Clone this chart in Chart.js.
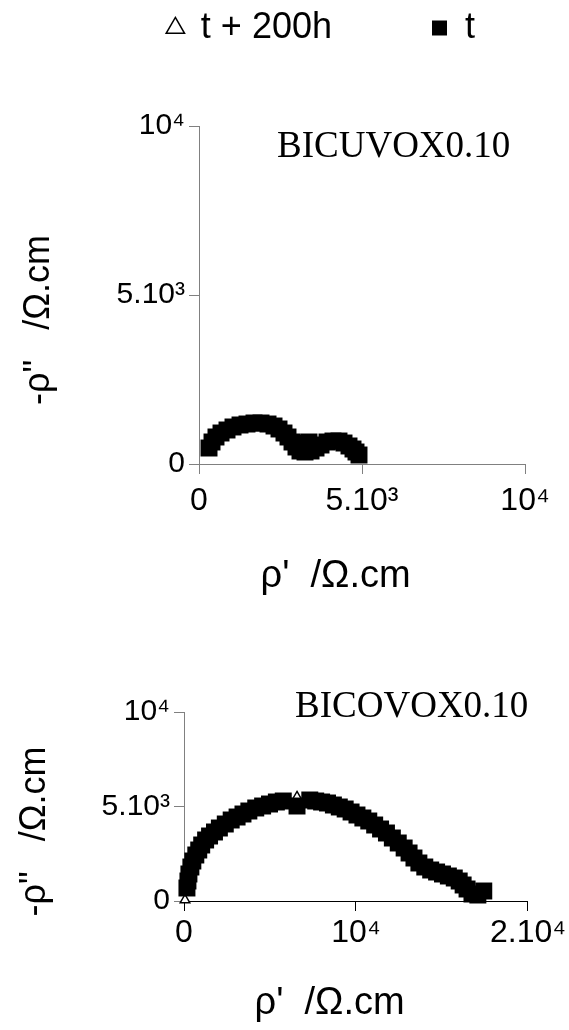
<!DOCTYPE html>
<html>
<head>
<meta charset="utf-8">
<script src="https://cdn.jsdelivr.net/npm/chart.js@4.4.1/dist/chart.umd.min.js"></script>
<style>
  html, body { margin: 0; padding: 0; background: #fff; }
  body { width: 569px; height: 1030px; position: relative; overflow: hidden; }
  canvas { position: absolute; left: 0; }
  #top { top: 0; }
  #bottom { top: 603px; }
</style>
</head>
<body>
<canvas id="top" width="569" height="603"></canvas>
<canvas id="bottom" width="569" height="427"></canvas>
<script>
/* impedance plots - two Nyquist diagrams, rho' vs -rho'' */

const SANS = '"Liberation Sans", Arial, sans-serif';
const SERIF = '"Liberation Serif", "Times New Roman", serif';

const legendNames = ['t', 't + 200h'];

// BICUVOX0.10
const cuTicksX = [0, 5000, 10000];
const cuLabelsX = ['0', '5.10³', '10⁴'];
const cuTicksY = [0, 5000, 10000];
const cuLabelsY = ['0', '5.10³', '10⁴'];
const cuT_re = [307, 399, 521, 675, 859, 1043, 1258, 1472, 1687, 1902, 2117, 2301, 2454, 2607, 2730, 2853, 2975, 3098, 3160, 3252, 3374, 3436, 3589, 3742, 3926, 4110, 4294, 4448, 4601, 4724, 4816, 4908];
const cuT_im = [473, 651, 799, 917, 1006, 1095, 1154, 1183, 1213, 1213, 1183, 1124, 1036, 917, 799, 651, 503, 385, 621, 355, 651, 385, 473, 562, 651, 680, 680, 621, 533, 444, 355, 266];
const cu200_re = [521, 1472, 2301, 2975, 3589, 4294, 4816];
const cu200_im = [799, 1183, 1124, 503, 473, 680, 355];

// BICOVOX0.10
const coTicksX = [0, 10000, 20000];
const coLabelsX = ['0', '10⁴', '2.10⁴'];
const coTicksY = [0, 5000, 10000];
const coLabelsY = ['0', '5.10³', '10⁴'];
const coT_re = [171, 229, 286, 400, 514, 686, 857, 1029, 1257, 1486, 1771, 2057, 2400, 2743, 3086, 3429, 3771, 4171, 4571, 4971, 5371, 5771, 6571, 7314, 7657, 8000, 8343, 8686, 9029, 9371, 9714, 10057, 10400, 10743, 11086, 11429, 11771, 12114, 12457, 12800, 13086, 13371, 13657, 14000, 14343, 14686, 15029, 15371, 15714, 16000, 16229, 16457, 16743, 17086, 17429];
const coT_im = [688, 1058, 1429, 1799, 2116, 2434, 2698, 2963, 3228, 3439, 3651, 3862, 4074, 4286, 4444, 4603, 4762, 4921, 5026, 5132, 5238, 5291, 5026, 5344, 5291, 5238, 5185, 5079, 4974, 4868, 4709, 4550, 4392, 4233, 4021, 3810, 3598, 3333, 3069, 2804, 2540, 2275, 2011, 1799, 1640, 1534, 1429, 1323, 1217, 1058, 847, 635, 370, 317, 529];
const co200_re = [57, 6571, 1029, 3086, 9029, 12114, 14686, 16743];
const co200_im = [53, 5503, 2963, 4444, 4974, 3333, 1534, 370];

const pts = (xs, ys) => xs.map((x, i) => ({ x: x, y: ys[i] }));

function datasets(tRe, tIm, aRe, aIm) {
    // squares first so they are painted over the triangles
    return [
        {
            label: legendNames[0],
            data: pts(tRe, tIm),
            pointStyle: 'rect',
            pointRadius: 12,
            backgroundColor: '#000',
            borderColor: '#000',
            borderWidth: 0,
            showLine: false,
            clip: false
        },
        {
            label: legendNames[1],
            data: pts(aRe, aIm),
            pointStyle: 'triangle',
            pointRadius: 5.5,
            backgroundColor: '#fff',
            borderColor: '#000',
            borderWidth: 1.5,
            showLine: false,
            clip: false
        }
    ];
}

function axis(ticks, labels, o) {
    return {
        type: 'linear',
        min: ticks[0],
        max: ticks[ticks.length - 1],
        afterBuildTicks: s => { s.ticks = ticks.map(v => ({ value: v })); },
        afterFit: s => { if (s.isHorizontal()) s.height = o.size; else s.width = o.size; },
        ticks: {
            autoSkip: false,
            maxRotation: 0,
            color: '#000',
            padding: o.pad,
            font: { family: SANS, size: o.tickSize },
            callback: v => labels[ticks.indexOf(v)]
        },
        grid: { display: true, drawOnChartArea: false, drawTicks: true, tickLength: 10, color: o.color, lineWidth: 1 },
        border: { display: true, color: o.color, width: 1 },
        title: {
            display: true,
            text: o.title,
            color: '#000',
            font: { family: SANS, size: o.titleSize },
            padding: o.titlePad
        }
    };
}

// sample name written inside the plot, anchored in data units
const insetTitle = {
    id: 'insetTitle',
    afterDraw(chart, args, opts) {
        const { ctx, scales: { x, y } } = chart;
        ctx.save();
        ctx.font = '37px ' + SERIF;
        ctx.fillStyle = '#000';
        ctx.textAlign = 'left';
        ctx.textBaseline = 'middle';
        ctx.fillText(opts.text, x.getPixelForValue(opts.x), y.getPixelForValue(opts.y));
        ctx.restore();
    }
};

// pushes the plot down below the legend
const legendSpacer = {
    id: 'legendSpacer',
    afterInit(chart, args, opts) {
        if (!chart.legend) return;
        const fit = chart.legend.fit;
        chart.legend.fit = function () { fit.call(this); this.height += opts.extra; };
    }
};

// trailing blanks nudge the centred titles toward the axis start, as in the original
const yTitle = '-ρ"   /Ω.cm' + '     ';
const xTitle = 'ρ\'  /Ω.cm' + '     ';

Chart.defaults.font.family = SANS;

new Chart(document.getElementById('top'), {
    type: 'scatter',
    data: { datasets: datasets(cuT_re, cuT_im, cu200_re, cu200_im) },
    plugins: [insetTitle, legendSpacer],
    options: {
        responsive: false,
        animation: false,
        devicePixelRatio: 1,
        layout: { padding: { left: 0, right: 44, top: 0, bottom: 0 } },
        plugins: {
            tooltip: { enabled: false },
            insetTitle: { text: 'BICUVOX0.10', x: 2393, y: 9379 },
            legendSpacer: { extra: 70 },
            legend: {
                display: true,
                position: 'top',
                align: 'end',
                labels: {
                    usePointStyle: true,
                    boxWidth: 15,
                    boxHeight: 15,
                    padding: 10,
                    color: '#000',
                    font: { family: SANS, size: 36 },
                    sort: (a, b) => b.datasetIndex - a.datasetIndex,
                    generateLabels: chart => Chart.defaults.plugins.legend.labels.generateLabels(chart).map(item => {
                        item.text = item.text + (item.datasetIndex === 1 ? '         ' : '    ');
                        return item;
                    })
                }
            }
        },
        scales: {
            x: axis(cuTicksX, cuLabelsX, { size: 139, pad: 8, tickSize: 32, color: '#808080', title: xTitle, titleSize: 38, titlePad: { top: 4, bottom: 4 } }),
            y: axis(cuTicksY, cuLabelsY, { size: 199, pad: 4, tickSize: 30, color: '#808080', title: yTitle, titleSize: 36, titlePad: { top: 17, bottom: 0 } })
        }
    }
});

new Chart(document.getElementById('bottom'), {
    type: 'scatter',
    data: { datasets: datasets(coT_re, coT_im, co200_re, co200_im) },
    plugins: [insetTitle],
    options: {
        responsive: false,
        animation: false,
        devicePixelRatio: 1,
        layout: { padding: { left: 0, right: 35, top: 109, bottom: 0 } },
        plugins: {
            tooltip: { enabled: false },
            legend: { display: false },
            insetTitle: { text: 'BICOVOX0.10', x: 6457, y: 10265 }
        },
        scales: {
            x: axis(coTicksX, coLabelsX, { size: 129, pad: 3, tickSize: 32, color: '#000', title: xTitle, titleSize: 38, titlePad: { top: 4, bottom: 4 } }),
            y: axis(coTicksY, coLabelsY, { size: 184, pad: 4, tickSize: 30, color: '#808080', title: yTitle, titleSize: 36, titlePad: { top: 13, bottom: 0 } })
        }
    }
});
</script>
</body>
</html>
